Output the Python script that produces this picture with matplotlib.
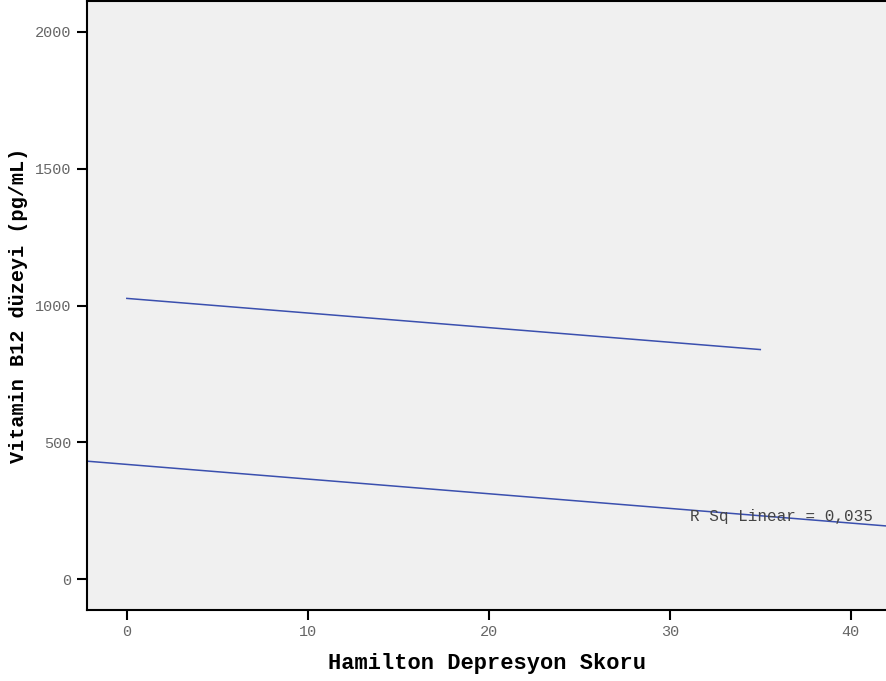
import matplotlib
matplotlib.use("Agg")
from matplotlib import pyplot as plt

# fit lines: endpoints (x, y)
upper_x = [0, 35]
upper_y = [1026, 839]
lower_x = [-2.2, 42]
lower_y = [431, 194]

x_ticks = [0, 10, 20, 30, 40]
y_ticks = [0, 500, 1000, 1500, 2000]
r_sq_label = "R Sq Linear = 0,035"

mono = "Liberation Mono"

fig = plt.figure(figsize=(8.87, 6.81), dpi=100)
ax = fig.add_axes([87 / 887, 1 - 610 / 681, 1 - 87 / 887, 610 / 681 - 0.0015])
ax.set_facecolor("#f0f0f0")

ax.plot(upper_x, upper_y, color="#3a4fae", linewidth=1.1)
ax.plot(lower_x, lower_y, color="#3a4fae", linewidth=1.1)

ax.text(31.1, 214, r_sq_label, family=mono, fontsize=11.5, color="#444444",
        va="baseline", ha="left")

ax.set_xlim(-2.2, 42.0)
ax.set_ylim(-113, 2113)
ax.set_xticks(x_ticks)
ax.set_yticks(y_ticks)

ax.spines["right"].set_visible(False)
for side in ["left", "bottom", "top"]:
    ax.spines[side].set_linewidth(1.5)
    ax.spines[side].set_color("black")

ax.tick_params(direction="out", length=7, width=1.5, colors="black",
               labelcolor="#666666", labelsize=11, pad=4)
for lab in ax.get_xticklabels() + ax.get_yticklabels():
    lab.set_family(mono)

ax.set_xlabel("Hamilton Depresyon Skoru", family=mono, fontsize=15.8,
              fontweight="bold", labelpad=10)
ax.set_ylabel("Vitamin B12 düzeyi (pg/mL)", family=mono, fontsize=14.5,
              fontweight="bold", labelpad=5)

fig.savefig("out.png", dpi=100)
